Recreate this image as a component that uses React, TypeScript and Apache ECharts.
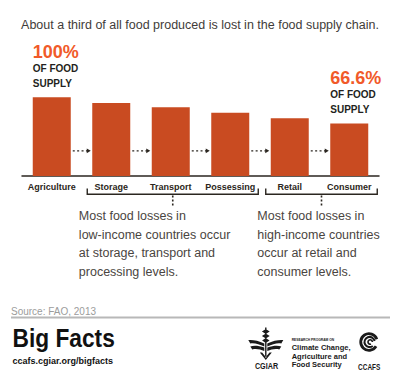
import React, { useEffect, useRef } from 'react';
import * as echarts from 'echarts';

const categories = ['Agriculture', 'Storage', 'Transport', 'Possessing', 'Retail', 'Consumer'];
const values = [100, 92.8, 87.3, 80.4, 73.3, 66.6];
const highlighted = [0, 5];
const calloutCaption = ['OF FOOD', 'SUPPLY'];
const title = 'About a third of all food produced is lost in the food supply chain.';
const lossGroups = [[1, 3], [4, 5]];
const lossNotes = [
  'Most food losses in\nlow-income countries occur\nat storage, transport and\nprocessing levels.',
  'Most food losses in\nhigh-income countries\noccur at retail and\nconsumer levels.',
];
const sourceText = 'Source: FAO, 2013';
const brandTitle = 'Big Facts';
const brandUrl = 'ccafs.cgiar.org/bigfacts';
const programLines = ['Climate Change,', 'Agriculture and', 'Food Security'];

const FONT = '"Liberation Sans", Arial, Helvetica, sans-serif';
const BAR = '#c94b21';
const ORANGE = '#f15a29';
const DARK = '#231f20';
const BAR_W = 38;

const CGIAR_D = [
  'M16.8 1 L18.2 1 L18.2 31 L16.8 31 Z',
  'M16.8 3 L13.6 5 L16.8 7 Z M18.2 3 L21.4 5 L18.2 7 Z',
  'M16.8 7.5 L13.6 9.5 L16.8 11.5 Z M18.2 7.5 L21.4 9.5 L18.2 11.5 Z',
  'M16.8 12 L13.8 14 L16.8 16 Z M18.2 12 L21.2 14 L18.2 16 Z',
  'M16 17 C10 14 4 13 0 13.5 L2 17 C6 16 11 18 16 20 Z',
  'M19 17 C25 14 31 13 35 13.5 L33 17 C29 16 24 18 19 20 Z',
  'M16 21 C10 19 5 19 2 20 L4 23 C8 22 12 23 16 24.5 Z',
  'M19 21 C25 19 30 19 33 20 L31 23 C27 22 23 23 19 24.5 Z',
  'M11.5 26 L17.5 33.5 L23.5 26 L21.2 26 L17.5 30.6 L13.8 26 Z',
].join(' ');

function txt(x: number, y: number, text: string, o: any = {}) {
  const align = o.align || 'left';
  const valign = o.valign || 'middle';
  return {
    type: 'text',
    x,
    y,
    scaleX: o.scaleX || 1,
    silent: true,
    style: {
      text,
      fill: o.fill || DARK,
      fontSize: o.fontSize || 12,
      fontWeight: o.fontWeight || 'normal',
      fontFamily: FONT,
      lineHeight: o.lineHeight,
      align,
      textAlign: align,
      verticalAlign: valign,
      textVerticalAlign: valign,
    },
  };
}

export default function App() {
  const ref = useRef<HTMLDivElement>(null);

  useEffect(() => {
    document.body.style.margin = '0';
    echarts.graphic.registerShape('cgiarLogo', echarts.graphic.extendPath(CGIAR_D, {}));
    const chart = echarts.init(ref.current!, null, { renderer: 'svg' });

    const data = values.map((v, i) =>
      highlighted.includes(i)
        ? {
            value: v,
            label: {
              show: true,
              position: [0, -55],
              align: 'left',
              verticalAlign: 'top',
              formatter: `{a|${v}%}\n{b|${calloutCaption[0]}}\n{b|${calloutCaption[1]}}`,
              rich: {
                a: { fontSize: 18, fontWeight: 'bold', color: ORANGE, lineHeight: 19, fontFamily: FONT },
                b: { fontSize: 10, fontWeight: 'bold', color: DARK, lineHeight: 14.5, fontFamily: FONT },
              },
            },
          }
        : v
    );

    chart.setOption({
      animation: false,
      backgroundColor: '#ffffff',
      textStyle: { fontFamily: FONT },
      grid: { left: 22, right: 21, top: 97.3, bottom: 207 },
      xAxis: {
        type: 'category',
        data: categories,
        axisLine: { lineStyle: { color: '#2b2620', width: 1.5 } },
        axisTick: { show: false },
        axisLabel: { interval: 0, color: '#2b2620', fontSize: 9, fontWeight: 'bold', margin: 6, fontFamily: FONT },
      },
      yAxis: { type: 'value', min: 0, max: 100, show: false },
      series: [{ type: 'bar', barWidth: BAR_W, data, itemStyle: { color: BAR } }],
    });

    const px = (i: number, v: number) => chart.convertToPixel({ xAxisIndex: 0, yAxisIndex: 0 }, [i, v]) as number[];
    const g: any[] = [];

    g.push(txt(200, 24.7, title, { align: 'center', fontSize: 12.5, fill: '#3f3c39' }));

    // arrows between bars
    for (let i = 0; i < categories.length - 1; i++) {
      const a = px(i, 32);
      const b = px(i + 1, 32);
      const x1 = a[0] + BAR_W / 2 + 2;
      const tip = b[0] - BAR_W / 2 - 1.5;
      const y = a[1];
      g.push({
        type: 'line',
        silent: true,
        shape: { x1, y1: y, x2: tip - 3, y2: y },
        style: { stroke: '#2b2620', lineWidth: 1.2, lineDash: [2, 2.4] },
      });
      g.push({
        type: 'polygon',
        silent: true,
        shape: { points: [[tip, y], [tip - 4, y - 2.4], [tip - 4, y + 2.4]] },
        style: { fill: '#2b2620' },
      });
    }

    // brackets and notes
    lossGroups.forEach((grp, k) => {
      const l = px(grp[0], 0)[0] - BAR_W / 2 - 5;
      const r = px(grp[1], 0)[0] + BAR_W / 2 + 9;
      const mid = (l + r) / 2;
      g.push({
        type: 'polyline',
        silent: true,
        shape: { points: [[l, 188.5], [l, 194.3], [r, 194.3], [r, 188.5]] },
        style: { stroke: '#2b2620', lineWidth: 1.4, fill: null },
      });
      g.push({
        type: 'line',
        silent: true,
        shape: { x1: mid, y1: 195.5, x2: mid, y2: 207 },
        style: { stroke: '#2b2620', lineWidth: 1.6, lineDash: [2, 2] },
      });
      g.push(txt(l - 8.4, 206.6, lossNotes[k], { valign: 'top', fontSize: 12.5, lineHeight: 18.7, fill: '#4a4541' }));
    });

    // footer
    g.push(txt(11, 311, sourceText, { fontSize: 10, fill: '#9c9c9c' }));
    g.push({
      type: 'line',
      silent: true,
      shape: { x1: 11, y1: 317.5, x2: 390, y2: 317.5 },
      style: { stroke: '#b8b8b8', lineWidth: 2 },
    });
    g.push(txt(12.5, 337.6, brandTitle, { fontSize: 25.7, fontWeight: 'bold', scaleX: 0.885, fill: '#111111' }));
    g.push(txt(12.5, 361.2, brandUrl, { fontSize: 9, fontWeight: 'bold', fill: '#111111' }));

    // CGIAR logo
    g.push({ type: 'cgiarLogo', x: 248.3, y: 326.5, silent: true, style: { fill: '#1a1a1a' } });
    g.push(txt(266.5, 366.7, 'CGIAR', { align: 'center', fontSize: 9, fontWeight: 'bold', scaleX: 0.8, fill: '#1a1a1a' }));

    // program text
    g.push(txt(291.7, 339.5, 'RESEARCH PROGRAM ON', { fontSize: 3.3, fontWeight: 'bold', fill: '#1a1a1a' }));
    programLines.forEach((t, i) => {
      g.push(txt(291.7, 347.6 + i * 8.6, t, { fontSize: 7.5, fontWeight: 'bold', fill: '#1a1a1a' }));
    });

    // CCAFS logo
    g.push({
      type: 'arc',
      silent: true,
      shape: { cx: 369, cy: 342, r: 8.3, startAngle: 0.55, endAngle: Math.PI * 2 - 0.35, clockwise: true },
      style: { stroke: '#1a1a1a', lineWidth: 2.8, fill: null },
    });
    g.push({
      type: 'arc',
      silent: true,
      shape: { cx: 369.6, cy: 342, r: 5.1, startAngle: 0.9, endAngle: Math.PI * 2 - 0.2, clockwise: true },
      style: { stroke: '#1a1a1a', lineWidth: 2, fill: null },
    });
    g.push({
      type: 'arc',
      silent: true,
      shape: { cx: 370.2, cy: 342, r: 2.2, startAngle: 1.2, endAngle: Math.PI * 2, clockwise: true },
      style: { stroke: '#1a1a1a', lineWidth: 1.6, fill: null },
    });
    g.push(txt(369.2, 366.7, 'CCAFS', { align: 'center', fontSize: 9, fontWeight: 'bold', scaleX: 0.72, fill: '#1a1a1a' }));

    chart.setOption({ graphic: g });

    return () => chart.dispose();
  }, []);

  return <div ref={ref} style={{ width: 400, height: 383 }} />;
}
